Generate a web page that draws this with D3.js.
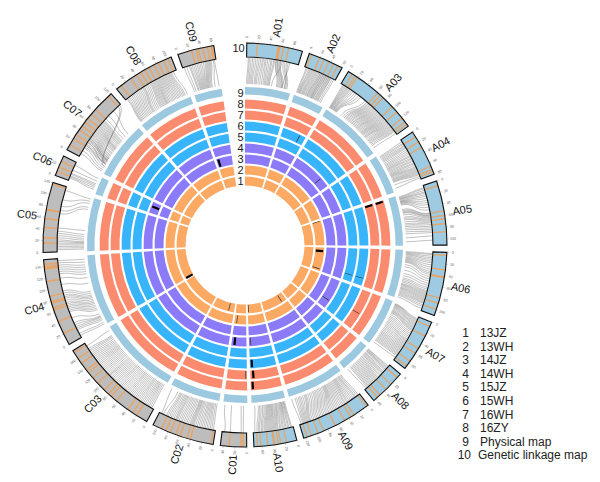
<!DOCTYPE html>
<html><head><meta charset="utf-8">
<style>html,body{margin:0;padding:0;background:#fff}svg{display:block}text{font-family:"Liberation Sans",Arial,sans-serif}</style>
<script src="https://cdn.jsdelivr.net/npm/d3@7/dist/d3.min.js"></script>
</head><body><svg id="c" width="600" height="482"></svg>
<script>
const chromosomes=["A01","A02","A03","A04","A05","A06","A07","A08","A09","A10","C01","C02","C03","C04","C05","C06","C07","C08","C09"];
const physicalMb=[16.55,11.4,23.5,14.6,18.2,17.5,17.5,11.5,21.1,12.3,8.7,18.4,29.6,25.9,19.5,6.5,21,20.6,10.15];
const geneticCM=[96,61,139,81,111,110,91,64,124,74,45,108,176,152,121,36,122,108,63];
const legendNames=["13JZ","13WH","14JZ","14WH","15JZ","15WH","16WH","16ZY","Physical map","Genetic linkage map"];
const trackColors=["#FBA963","#FBA963","#8C7BF8","#8C7BF8","#38B4FB","#38B4FB","#FB8B6E","#FB8B6E","#9CC9E0"];

// stripes on the genetic map (cM)
const stripes=[
[18,54,55.5,57,63,72],[4,19,27,36,45,53],[8,14,18,62,68,74,96,108,122,130,135],[10,20,30,66,72,76],
[8,52,60,66,74,88],[5,30,42,43,79,88,99],[8,26,50,60,76,86],[8,24,36,50,56],[4,30,36,48,66,88,98,110,118],
[18,28,32,38,40,50,62,68],[6,10,30],[4,40,46,58,66,76,84,92],[20,28,38,62,74,80,90,106,118,130,136,150,160,172],
[21,43,64,68,76,79,88,114,136,138,140,144],[16,25,43,58,73,74,118],[8,16,26],[10,22,30,40,48,56,64,74,84,116],
[10,30,42,50,58,66,76,84,94,102],[24,32,36,44,52,58,60]];

// marker links: [cM on map, Mb on physical track]
const links=[
[[3,.6],[8,1.4],[14,2.2],[20,3.2],[26,4],[31,5.2],[36,6.4],[42,7.2],[47,8],[52,8.6],[54,11.2],[57,12],[60,12.8],[63,13.4],[66,9.4],[68,14.2],[74,15],[80,13.2],[5,1],[11,1.8],[17,2.6],[23,3.6],[29,4.6],[34,5.8],[39,6.8],[45,7.6],[50,8.3],[55,11.6],[58,12.4],[62,13],[71,14.6],[77,14]],
[[3,.6],[8,1.2],[12,1.7],[16,2.4],[20,3],[24,3.7],[28,4.4],[31,4.9],[34,5.5],[37,6],[40,6.4],[43,6.9],[46,7.6],[49,8.2],[52,8.8],[55,9.3],[58,9.8],[5,.9],[10,1.5],[14,2],[18,2.7],[22,3.3],[26,4],[30,4.6],[33,5.2],[36,5.8],[39,6.2],[42,6.7],[45,7.3],[48,7.9],[51,8.5]],
[[4,.6],[8,1],[12,1.4],[16,1.9],[20,2.3],[26,2.8],[34,3.2],[44,3.6],[54,5.6],[60,7],[64,7.8],[68,8.6],[72,9.4],[76,10.3],[80,11],[84,11.8],[88,12.6],[92,13.2],[96,14],[100,14.8],[104,15.4],[108,16],[112,16.8],[116,17.4],[120,18.4],[124,19.2],[128,20],[132,21],[136,22],[6,.8],[10,1.2],[14,1.6],[18,2.1],[23,2.5],[30,3],[39,3.4],[58,6.4],[62,7.4],[66,8.2],[70,9],[74,9.8],[78,10.6],[82,11.4],[86,12.2],[90,12.9],[94,13.6],[98,14.4],[102,15.1],[106,15.7],[110,16.4],[114,17.1],[118,17.9],[122,18.8],[126,19.6],[130,20.5]],
[[4,.8],[9,1.6],[14,2.4],[18,3.2],[24,4.2],[30,5],[35,5.8],[40,6.4],[45,7.2],[50,8],[56,8.6],[60,9.2],[64,10],[68,10.6],[72,11.2],[75,12.2],[78,13.4],[7,1.2],[12,2],[16,2.8],[21,3.7],[27,4.6],[33,5.4],[38,6.1],[43,6.8],[48,7.6],[53,8.3],[58,8.9],[62,9.6],[66,10.3],[70,10.9]],
[[4,.6],[9,1.2],[14,1.6],[20,2.2],[28,2.6],[36,3],[46,3.6],[52,5.2],[55,6],[58,6.6],[62,8],[66,9],[70,10.4],[76,11.4],[82,12.6],[88,14],[94,15.4],[102,16.8],[6,.9],[12,1.4],[17,1.9],[24,2.4],[32,2.8],[41,3.3],[53,5.6],[56,6.3],[60,7.2],[64,8.5],[68,9.7],[73,10.9],[79,12],[85,13.3]],
[[3,.6],[8,1.2],[14,1.8],[20,2.6],[28,3.2],[36,3.8],[42,4.4],[50,6],[58,8.4],[66,10],[72,11],[76,12],[80,12.6],[84,13.4],[88,14],[92,14.8],[96,15.6],[102,16.4],[106,17],[5,.9],[11,1.5],[17,2.2],[24,2.9],[32,3.5],[39,4.1],[46,5.2],[54,7.2],[62,9.2],[69,10.5],[74,11.5],[78,12.3],[82,13],[86,13.7],[90,14.4],[94,15.2],[99,16]],
[[4,.6],[8,1],[12,1.6],[16,2.2],[20,3],[24,3.6],[28,4.2],[34,5.4],[40,6.4],[46,7.4],[50,8.4],[54,9.4],[58,10.4],[62,11.4],[66,12.2],[70,13],[74,13.8],[78,14.6],[82,15.4],[86,16.2],[6,.8],[10,1.3],[14,1.9],[18,2.6],[22,3.3],[26,3.9],[31,4.8],[37,5.9],[43,6.9],[48,7.9],[52,8.9],[56,9.9],[60,10.9],[64,11.8],[68,12.6],[72,13.4],[76,14.2],[80,15]],
[[3,.4],[7,.9],[11,1.3],[16,2],[20,2.6],[25,3.2],[30,4],[34,4.8],[38,5.6],[42,6.4],[46,7.2],[50,8],[54,8.8],[58,9.6],[61,10.6],[5,.6],[9,1.1],[13,1.6],[18,2.3],[22,2.9],[27,3.6],[32,4.4],[36,5.2],[40,6],[44,6.8],[48,7.6],[52,8.4],[56,9.2]],
[[3,.8],[9,1.6],[14,2.2],[20,3],[26,3.6],[31,4.2],[36,5],[42,5.8],[48,6.6],[54,7.4],[60,8],[66,8.6],[72,9.6],[78,10.6],[84,11.6],[90,12.6],[96,13.8],[102,15],[106,15.8],[110,17],[114,18],[118,19.2],[121,20.4],[6,1.2],[11,1.9],[17,2.6],[23,3.3],[28,3.9],[33,4.6],[39,5.4],[45,6.2],[51,7],[57,7.7],[63,8.3],[69,9.1],[75,10.1],[81,11.1],[87,12.1],[93,13.2],[99,14.4],[104,15.4],[108,16.4],[112,17.5],[116,18.6]],
[[3,.5],[8,1],[13,1.6],[18,2],[23,2.6],[28,3.4],[32,4],[36,4.8],[40,5.4],[44,6],[48,6.6],[52,7.2],[57,8],[62,9],[67,10],[71,11.2],[5,.8],[10,1.3],[15,1.8],[20,2.3],[25,3],[30,3.7],[34,4.4],[38,5.1],[42,5.7],[46,6.3],[50,6.9],[54,7.6],[59,8.5],[64,9.5]],
[[6,1.4],[30,5.6],[40,8],[10,2.2]],
[[4,.6],[10,1.6],[16,2.4],[22,3.2],[28,4],[34,5],[40,5.8],[44,6.4],[48,7],[54,8],[60,9],[66,10],[72,11],[76,11.8],[82,12.6],[88,13.6],[94,14.4],[100,15.2],[104,17.6],[7,1.1],[13,2],[19,2.8],[25,3.6],[31,4.5],[37,5.4],[42,6.1],[46,6.7],[51,7.5],[57,8.5],[63,9.5],[69,10.5],[74,11.4],[79,12.2],[85,13.1],[91,14]],
[[4,.8],[10,1.8],[16,2.6],[22,3.4],[28,4.4],[34,5.2],[40,6.2],[46,7.2],[52,8.2],[58,9],[64,10],[70,11],[76,12],[82,12.8],[88,13.8],[94,14.8],[100,15.8],[104,16.8],[110,18],[116,19],[122,20],[128,21],[134,21.8],[140,22.6],[146,23.6],[152,24.6],[158,25.8],[164,26.6],[170,28.6],[7,1.3],[13,2.2],[19,3],[25,3.9],[31,4.8],[37,5.7],[43,6.7],[49,7.7],[55,8.6],[61,9.5],[67,10.5],[73,11.5],[79,12.4],[85,13.3],[91,14.3],[97,15.3],[102,16.3],[107,17.4],[113,18.5],[119,19.5],[125,20.5],[131,21.4],[137,22.2],[143,23.1],[149,24.1],[155,25.2],[161,26.2]],
[[4,.4],[8,1],[16,2],[22,3],[30,3.6],[40,4.4],[52,6],[58,7.2],[64,8.4],[70,9.4],[78,10.6],[84,11.6],[92,13],[104,16],[116,18],[124,19.4],[132,21],[140,22.6],[148,24.6],[55,6.6],[61,7.8],[67,8.9],[74,10],[81,11.1],[88,12.3],[19,2.5],[26,3.3],[128,20.2],[136,21.8],[144,23.6]],
[[4,.8],[10,1.8],[16,2.8],[22,3.4],[30,4.6],[38,6],[44,7.4],[70,15],[76,15.8],[84,17.2],[96,18],[114,18.8],[7,1.3],[13,2.3],[19,3.1],[26,4],[34,5.3]],
[[5,1.4],[9,2.6],[14,3.6],[20,4.6],[30,5.6],[7,2],[12,3.1]],
[[6,.6],[12,1.2],[18,1.9],[24,2.6],[30,3.4],[34,4.6],[38,5],[42,5.8],[46,6.6],[50,7.6],[54,8.6],[58,9.4],[62,10],[66,10.6],[70,11.6],[74,12.4],[78,13.2],[84,14.4],[92,15.4],[104,16.8],[116,3.2],[120,2.4],[20,3.4],[23,3.7],[26,4],[29,4.3],[32,4.7],[35,5],[37,5.3],[40,5.6],[44,6.2],[48,7],[52,8],[56,9],[60,9.7],[64,10.3],[68,11.1],[72,12],[76,12.8],[80,13.6]],
[[3,.6],[8,1.2],[14,2],[20,3],[26,4],[32,5],[38,6],[42,6.8],[48,8],[54,9.2],[58,10],[62,10.8],[66,11.6],[70,12.2],[74,13],[78,14],[82,15],[86,16],[90,17],[94,18],[98,19],[102,19.8],[5,.9],[11,1.6],[17,2.5],[23,3.5],[29,4.5],[35,5.5],[40,6.4],[45,7.4],[51,8.6],[56,9.6],[60,10.4],[64,11.2],[68,11.9],[72,12.6],[76,13.5],[80,14.5],[84,15.5],[88,16.5],[92,17.5],[96,18.5]],
[[3,.4],[8,1],[13,1.8],[18,2.6],[24,3.2],[30,3.8],[36,4.4],[42,5],[46,5.6],[50,6.2],[54,7],[58,8],[60,9.4],[15,2.1],[21,2.9],[27,3.5],[33,4.1],[39,4.7],[44,5.3],[48,5.9],[52,6.6]]
];

// black QTL marks: [track, chromosome index, Mb, heavy]
const qtls=[[3,18,1.3,1],[4,15,3.8,1],[6,1,8.5,0],[4,2,17.7,0],[7,4,.5,1],[8,4,.5,1],[2,4,.3,0],[2,5,2.8,1],[2,5,16,0],[5,5,14,0],[6,5,14,0],
[4,6,12.7,0],[7,6,10.3,0],[1,8,4.3,0],[6,9,11.35,1],[7,9,11,1],[8,9,11.5,1],[7,10,.5,0],[4,9,11.3,0],[4,10,6.9,1],[2,10,6.9,0],[1,9,11.6,0],[1,11,4.7,0],[1,13,.4,1]];

const cx=245,cy=245, rad=d3.scaleLinear().domain([0,360]).range([0,2*Math.PI]);
const svg=d3.select("#c"), g=svg.append("g").attr("transform",`translate(${cx},${cy})`);
const ringGap=1.5, bandGap=12.3;
const physTotal=d3.sum(physicalMb)+ringGap*18, genTotal=d3.sum(geneticCM)+bandGap*18;
const ringAngle=d3.scaleLinear().domain([0,physTotal]).range([0,351.5]);
const bandAngle=d3.scaleLinear().domain([0,genTotal]).range([0.5,351.1]);
const physStart=d3.cumsum([0,...physicalMb.slice(0,-1)].map((v,i)=>v+(i?ringGap:0)));
const genStart=d3.cumsum([0,...geneticCM.slice(0,-1)].map((v,i)=>v+(i?bandGap:0)));
const arc=d3.arc();
const trackInner=k=>k===9?150:59+(k-1)*11;
const trackOuter=k=>k===9?158:69+(k-1)*11-0.6;
const bandIn=188,bandOut=202;

// tracks
trackColors.forEach((col,t)=>{
  const k=t+1;
  g.append("g").selectAll("path").data(chromosomes).join("path").attr("fill",col)
   .attr("d",(d,i)=>arc({innerRadius:trackInner(k)+0.5,outerRadius:trackOuter(k),
     startAngle:rad(ringAngle(physStart[i])),endAngle:rad(ringAngle(physStart[i]+physicalMb[i]))}));
});
// QTL marks
g.append("g").selectAll("path").data(qtls).join("path").attr("fill",d=>d[3]?"#000":"#333")
  .attr("d",d=>{const a=rad(ringAngle(physStart[d[1]]+d[2])),r=trackInner(d[0]),hw=(d[3]?1.1:0.35)/(r+5);
    return arc({innerRadius:r+1,outerRadius:trackOuter(d[0])-1,startAngle:a-hw,endAngle:a+hw});});
// links
const linkGen=d3.linkRadial().angle(d=>d.a).radius(d=>d.r);
const lg=g.append("g").attr("fill","none").attr("stroke","#6e6e6e").attr("stroke-width",0.5).attr("stroke-opacity",0.85);
links.forEach((arr,i)=>lg.selectAll(null).data(arr).join("path")
  .attr("d",d=>linkGen({source:{a:rad(bandAngle(genStart[i]+d[0])),r:bandIn-0.5},target:{a:rad(ringAngle(physStart[i]+d[1])),r:161}})));
// genetic map bands
chromosomes.forEach((name,i)=>{
  const sa=rad(bandAngle(genStart[i])),ea=rad(bandAngle(genStart[i]+geneticCM[i]));
  const b=g.append("g");
  const pos=d3.scaleLinear().domain([0,geneticCM[i]]).range([sa,ea]);
  b.append("path").attr("fill",name[0]==="A"?"#9FCBE2":"#BDBDBD").attr("d",arc({innerRadius:bandIn,outerRadius:bandOut,startAngle:sa,endAngle:ea}));
  b.selectAll(".s").data(stripes[i]).join("path").attr("fill","#F0A058").attr("fill-opacity",0.85)
    .attr("d",d=>arc({innerRadius:bandIn,outerRadius:bandOut,startAngle:pos(d)-0.0035,endAngle:pos(d)+0.0035}));
  b.append("path").attr("fill","none").attr("stroke","#111").attr("stroke-width",1.1).attr("d",arc({innerRadius:bandIn,outerRadius:bandOut,startAngle:sa,endAngle:ea}));
  const ticks=d3.range(0,geneticCM[i]+1,20);
  b.selectAll(".t").data(ticks).join("path").attr("stroke","#777").attr("stroke-width",0.35)
    .attr("d",d=>d3.lineRadial()([[pos(d),bandOut],[pos(d),bandOut+2]]));
  b.selectAll(".l").data(ticks).join("text").attr("font-size",3.6).attr("fill","#555").attr("text-anchor","middle").attr("dy","0.35em")
    .attr("transform",d=>{const deg=pos(d)*180/Math.PI;return `rotate(${deg-90}) translate(${bandOut+6},0)`+(deg>180?" rotate(180)":"");})
    .text(d=>d);
  const mid=(sa+ea)/2,deg=mid*180/Math.PI,R=220;
  b.append("text").attr("font-size",11).attr("fill","#111").attr("text-anchor","middle").attr("dy","0.35em")
    .attr("transform",`translate(${R*Math.sin(mid)},${-R*Math.cos(mid)}) rotate(${deg<180?deg-90:deg-270})`).text(name);
});
// track numbers
const numbers=d3.range(1,10);
svg.append("g").selectAll("text").data(numbers).join("text").attr("font-size",11).attr("fill","#222").attr("text-anchor","middle").attr("dy","0.35em")
  .attr("x",240.5).attr("y",d=>cy-(64+(d-1)*11)).text(d=>d);
svg.append("text").attr("font-size",11).attr("fill","#222").attr("text-anchor","middle").attr("dy","0.35em").attr("x",238.5).attr("y",48).text("10");
// legend
const ly=d3.scaleLinear().domain([1,10]).range([333,455]);
const leg=svg.append("g").attr("font-size",12).attr("fill","#222");
leg.selectAll(".n").data(legendNames).join("text").attr("text-anchor","end").attr("x",(d,i)=>i===9?471:469).attr("y",(d,i)=>ly(i+1)).attr("dy","0.35em").text((d,i)=>i+1);
leg.selectAll(".m").data(legendNames).join("text").attr("x",(d,i)=>i===9?478:480).attr("y",(d,i)=>ly(i+1)).attr("dy","0.35em").text(d=>d);
</script></body></html>
